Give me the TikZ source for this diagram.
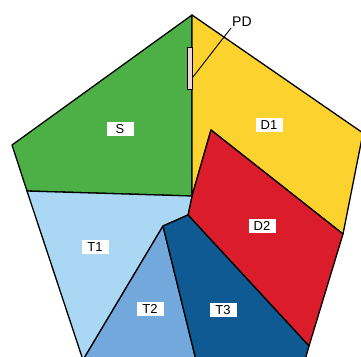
\documentclass[tikz,border=0pt]{standalone}
\usepackage{fontspec}
\setmainfont{Liberation Sans}
\definecolor{cS}{HTML}{4DB047}
\definecolor{cDa}{HTML}{FCD22E}
\definecolor{cDb}{HTML}{DA1C2B}
\definecolor{cTa}{HTML}{AAD7F3}
\definecolor{cTb}{HTML}{73A8DC}
\definecolor{cTc}{HTML}{0F5A93}
\definecolor{cPD}{HTML}{EED8D6}
\begin{document}
\begin{tikzpicture}[x=1pt,y=-1pt,
  region/.style={draw=black,line width=1.3pt,line join=round},
  lbl/.style={fill=white,inner sep=0pt,minimum width=27pt,minimum height=14pt,font=\fontsize{13}{13}\selectfont},
  leader/.style={draw=black,line width=0.9pt}]
\useasboundingbox (0,0) rectangle (361,356);
\clip (0,0) rectangle (361,356);
\coordinate (A) at (192,15);
\coordinate (L) at (12,145);
\coordinate (P) at (27,191);
\coordinate (C) at (192,196);
\coordinate (R) at (363,133);
\coordinate (Q) at (343,234);
\coordinate (G) at (211,130);
\coordinate (K) at (309,346);
\coordinate (BR) at (305,360);
\coordinate (E) at (188,215);
\coordinate (F) at (163,226);
\coordinate (H) at (196,360);
\coordinate (BL) at (83,360);
% regions
\filldraw[region,fill=cS] (A) -- (L) -- (P) -- (C) -- cycle;
\filldraw[region,fill=cDa] (A) -- (R) -- (Q) -- (G) -- (C) -- cycle;
\filldraw[region,fill=cDb] (G) -- (Q) -- (K) -- (E) -- (C) -- cycle;
\filldraw[region,fill=cTa] (P) -- (C) -- (E) -- (F) -- (BL) -- cycle;
\filldraw[region,fill=cTb] (F) -- (H) -- (BL) -- cycle;
\filldraw[region,fill=cTc] (F) -- (E) -- (K) -- (BR) -- (H) -- cycle;
% PD marker
\filldraw[draw=black,line width=0.8pt,fill=cPD] (187.5,47) rectangle (192,89);
\coordinate (pdfoot) at (193,77);
\node[font=\fontsize{14}{14}\selectfont,inner sep=1pt,anchor=west] (pd) at (231,22) {PD};
\draw[leader] (pdfoot) -- (pd.south west);
% labels
\node[lbl] (s) at (120,129) {S};
\node[lbl] (d1) at (269,125) {D1};
\node[lbl] (d2) at (262,226) {D2};
\node[lbl] (t1) at (95,247) {T1};
\node[lbl] (t2) at (150,309) {T2};
\node[lbl] (t3) at (223,310) {T3};
\end{tikzpicture}
\end{document}
